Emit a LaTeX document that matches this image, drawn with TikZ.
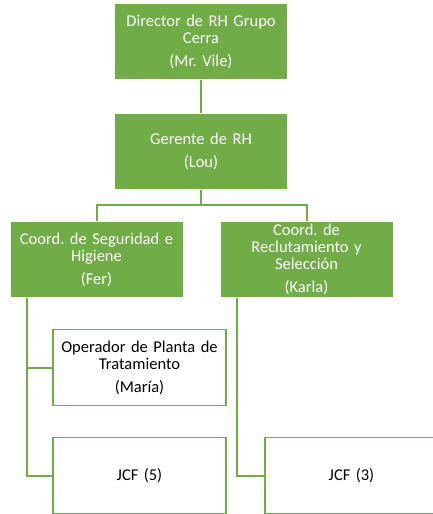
\documentclass[tikz,border=0pt]{standalone}
\usepackage{fontspec}
\setmainfont{Carlito}
\usepackage{xcolor}
\definecolor{verde}{HTML}{70AD47}
\frenchspacing

\begin{document}
\begin{tikzpicture}[x=1pt, y=-1pt,
        capo/.style={rectangle, draw=white, line width=1pt, fill=verde, text=white,
            minimum width=173pt, minimum height=76pt, text width=165pt, align=center,
            inner sep=0pt, font={\fontsize{16.5}{17}\selectfont}},
        operativo/.style={capo, draw=verde, line width=1.3pt, fill=white, text=black},
        linea/.style={draw=verde, line width=2pt}]
            \useasboundingbox (0,0) rectangle (432,514);

            % Nodi
            \foreach \nome/\x/\y/\testo in {dir/201/41.5/{Director de RH Grupo\\Cerra\\[6pt](Mr. Vile)},
                    ger/201/151/{Gerente de RH\\[6pt](Lou)},
                    seg/96.5/259.5/{Coord. de Seguridad e\\Higiene\\[6pt](Fer)},
                    rec/306.5/259.5/{Coord. de\\Reclutamiento y\\Selección\\[6pt](Karla)}} {
                    \node[capo] (\nome) at (\x,\y) {\testo};
                }
            \foreach \nome/\x/\y/\testo in {ope/139.5/367.5/{Operador de Planta de\\Tratamiento\\[6pt](María)},
                    jcfa/139.5/475.5/{JCF (5)},
                    jcfb/351.5/475.5/{JCF (3)}} {
                    \node[operativo] (\nome) at (\x,\y) {\testo};
                }

            % Collegamenti
            \draw[linea] (dir) -- (ger);
            \draw[linea] (ger.south) -- ++(0,15) coordinate (bus) -| (seg.north);
            \draw[linea] (bus) -| (rec.north);
            \foreach \capo/\sotto in {seg/ope, seg/jcfa, rec/jcfb} {
                    \draw[linea] ([xshift=17pt]\capo.south west) |- (\sotto.west);
                }
        \end{tikzpicture}
\end{document}
